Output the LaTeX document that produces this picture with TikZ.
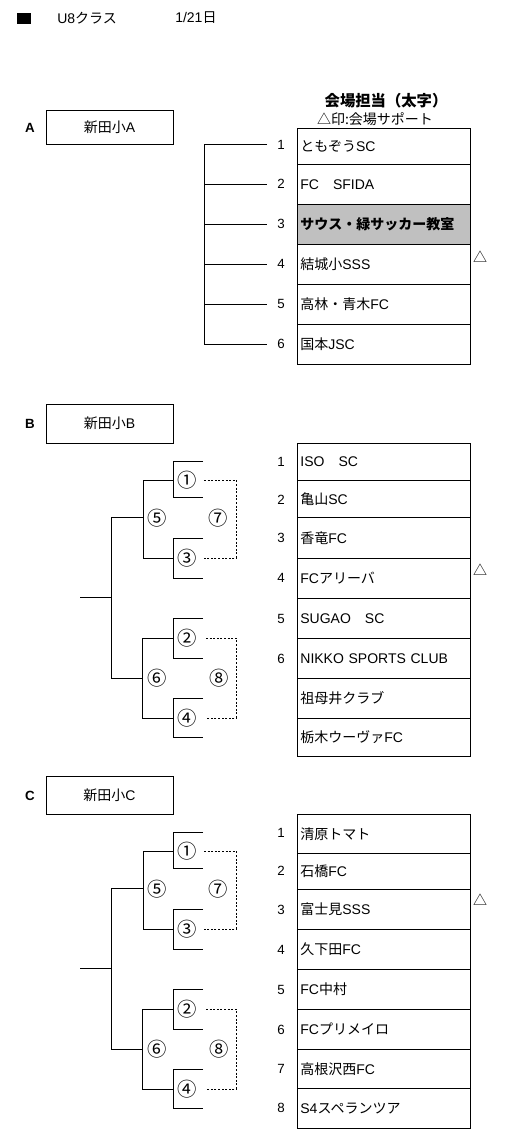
\documentclass[tikz,border=0pt]{standalone}
\usepackage{fontspec}
\setmainfont{Liberation Sans}
\newfontfamily\cjk{Noto Sans CJK JP}
\newcommand{\J}[1]{{\cjk #1}}
\definecolor{shade}{RGB}{192,192,192}
\begin{document}
\begin{tikzpicture}[x=0.75pt,y=-0.75pt,
  ln/.style={line width=0.6pt},
  dl/.style={line width=0.6pt, dash pattern=on 1.5pt off 1.2pt},
  txt/.style={inner sep=0pt, font=\fontsize{10.5}{12}\selectfont},
  num/.style={inner sep=0pt, font=\fontsize{10}{12}\selectfont},
  cn/.style={inner sep=0pt, font=\fontsize{14.5}{16}\selectfont},
  rowh/.style={minimum height=#1*0.75pt},
  cell/.style={draw, line width=0.6pt, anchor=north west, minimum width=129.75pt,
    text width=125.25pt, inner xsep=2.25pt, inner ysep=0pt, align=left,
    font=\fontsize{10.5}{12}\selectfont},
  gbox/.style={draw, line width=0.6pt, minimum width=95.25pt, inner sep=0pt,
    font=\fontsize{10.5}{12}\selectfont},
  glab/.style={inner sep=0pt, font=\fontsize{10}{12}\selectfont\bfseries},
  bracket/.pic={
    \draw[ln] (203,461) -- (173,461) -- (173,497) -- (203,497);
    \draw[ln] (203,538) -- (173,538) -- (173,578) -- (203,578);
    \draw[ln] (173,480) -- (143,480) -- (143,558) -- (173,558);
    \draw[ln] (143,517) -- (111,517) -- (111,678) -- (143,678);
    \draw[ln] (80,597) -- (111,597);
    \draw[ln] (173,638) -- (142,638) -- (142,718) -- (173,718);
    \draw[ln] (203,618) -- (173,618) -- (173,658) -- (203,658);
    \draw[ln] (203,698) -- (173,698) -- (173,737) -- (203,737);
    \draw[dl] (204,480) -- (236,480) -- (236,558) -- (204,558);
    \draw[dl] (206,638) -- (236,638) -- (236,718) -- (206,718);
    \node[cn] (-c1) at (187,480) {\J{①}};
    \node[cn] (-c3) at (187,558) {\J{③}};
    \node[cn] (-c2) at (187,638) {\J{②}};
    \node[cn] (-c4) at (187,718) {\J{④}};
    \node[cn] (-c5) at (157,518) {\J{⑤}};
    \node[cn] (-c7) at (218,518) {\J{⑦}};
    \node[cn] (-c6) at (157,678) {\J{⑥}};
    \node[cn] (-c8) at (219,678) {\J{⑧}};
  }]
\useasboundingbox (0,0) rectangle (505,1140);

% header
\node[fill=black, inner sep=0pt, minimum width=10.5pt, minimum height=8.25pt] (sq) at (24,18.5) {};
\node[txt, anchor=west] (title) at (57,18) {U8\J{クラス}};
\node[txt, anchor=west] (date) at (175,18) {1/21\J{日}};

% titles
\node[inner sep=0pt, font=\fontsize{11.5}{12}\selectfont\bfseries] (t1) at (386,101) {\J{会場担当（太字）}};
\node[inner sep=0pt, font=\fontsize{10.5}{12}\selectfont] (t2) at (375,119) {\J{△印:会場サポート}};

% ---------- A ----------
\node[glab] (la) at (30,128) {A};
\node[gbox, rowh=34] (ga) at (109.5,127) {\J{新田小}A};
\node[cell, rowh=36] (a1) at (297,128) {\J{ともぞう}SC};
\node[cell, rowh=40] (a2) at (297,164) {FC\J{　}SFIDA};
\node[cell, rowh=40, fill=shade, font=\fontsize{10.5}{12}\selectfont\bfseries] (a3) at (297,204) {\J{サウス・緑サッカー教室}};
\node[cell, rowh=40] (a4) at (297,244) {\J{結城小}SSS};
\node[cell, rowh=40] (a5) at (297,284) {\J{高林・青木}FC};
\node[cell, rowh=40] (a6) at (297,324) {\J{国本}JSC};
\node[num] (an1) at (281,145) {1};
\node[num] (an2) at (281,184) {2};
\node[num] (an3) at (281,224) {3};
\node[num] (an4) at (281,264) {4};
\node[num] (an5) at (281,304) {5};
\node[num] (an6) at (281,344) {6};
\draw[ln] (267,144) -- (204,144) -- (204,344) -- (267,344);
\draw[ln] (204,184) -- (267,184);
\draw[ln] (204,224) -- (267,224);
\draw[ln] (204,264) -- (267,264);
\draw[ln] (204,304) -- (267,304);
\node[txt] (atri) at (480,257) {\J{△}};

% ---------- B ----------
\node[glab] (lb) at (30,424) {B};
\node[gbox, rowh=39] (gb) at (109.5,423.5) {\J{新田小}B};
\pic (bb) at (0,0) {bracket};
\node[cell, rowh=37] (b1) at (297,443) {ISO\J{　}SC};
\node[cell, rowh=37] (b2) at (297,480) {\J{亀山}SC};
\node[cell, rowh=41] (b3) at (297,517) {\J{香竜}FC};
\node[cell, rowh=40] (b4) at (297,558) {FC\J{アリーバ}};
\node[cell, rowh=40] (b5) at (297,598) {SUGAO\J{　}SC};
\node[cell, rowh=40] (b6) at (297,638) {NIKKO SPORTS CLUB};
\node[cell, rowh=40] (b7) at (297,678) {\J{祖母井クラブ}};
\node[cell, rowh=38] (b8) at (297,718) {\J{栃木ウーヴァ}FC};
\node[num] (bn1) at (281,462) {1};
\node[num] (bn2) at (281,500) {2};
\node[num] (bn3) at (281,538) {3};
\node[num] (bn4) at (281,578) {4};
\node[num] (bn5) at (281,619) {5};
\node[num] (bn6) at (281,659) {6};
\node[txt] (btri) at (480,570) {\J{△}};

% ---------- C ----------
\node[glab] (lc) at (30,796) {C};
\node[gbox, rowh=38] (gc) at (109.5,795) {\J{新田小}C};
\pic (cb) at (0,371) {bracket};
\node[cell, rowh=39] (c1) at (297,814) {\J{清原トマト}};
\node[cell, rowh=36] (c2) at (297,853) {\J{石橋}FC};
\node[cell, rowh=40] (c3) at (297,889) {\J{富士見}SSS};
\node[cell, rowh=40] (c4) at (297,929) {\J{久下田}FC};
\node[cell, rowh=40] (c5) at (297,969) {FC\J{中村}};
\node[cell, rowh=40] (c6) at (297,1009) {FC\J{プリメイロ}};
\node[cell, rowh=39] (c7) at (297,1049) {\J{高根沢西}FC};
\node[cell, rowh=40] (c8) at (297,1088) {S4\J{スペランツア}};
\node[num] (cn1) at (281,833) {1};
\node[num] (cn2) at (281,871) {2};
\node[num] (cn3) at (281,910) {3};
\node[num] (cn4) at (281,950) {4};
\node[num] (cn5) at (281,990) {5};
\node[num] (cn6) at (281,1030) {6};
\node[num] (cn7) at (281,1069) {7};
\node[num] (cn8) at (281,1108) {8};
\node[txt] (ctri) at (480,900) {\J{△}};
\end{tikzpicture}
\end{document}
